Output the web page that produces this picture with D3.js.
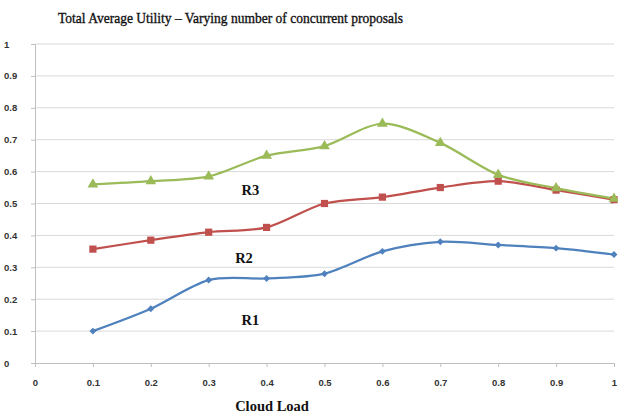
<!DOCTYPE html>
<html>
<head>
<meta charset="utf-8">
<script src="https://cdn.jsdelivr.net/npm/d3@7"></script>
<style>
  html, body { margin: 0; padding: 0; background: #fff; }
  svg { display: block; }
</style>
</head>
<body>
<svg id="chart" width="618" height="414"></svg>
<script>
// Cloud load levels and the three utility series
const loads = [0.1, 0.2, 0.3, 0.4, 0.5, 0.6, 0.7, 0.8, 0.9, 1.0];
const r1 = [0.10, 0.17, 0.26, 0.265, 0.28, 0.35, 0.38, 0.37, 0.36, 0.34];
const r2 = [0.357, 0.385, 0.41, 0.425, 0.50, 0.52, 0.55, 0.57, 0.542, 0.512];
const r3 = [0.56, 0.57, 0.585, 0.65, 0.68, 0.75, 0.69, 0.59, 0.548, 0.515];
const xTicks = [0, 0.1, 0.2, 0.3, 0.4, 0.5, 0.6, 0.7, 0.8, 0.9, 1];
const yTicks = [0, 0.1, 0.2, 0.3, 0.4, 0.5, 0.6, 0.7, 0.8, 0.9, 1];
const seriesNames = ["R1", "R2", "R3"];

const svg = d3.select("#chart");
const margin = { left: 35, right: 4, top: 44, bottom: 51 };
const W = 618, H = 414;

const x = d3.scaleLinear().domain([0, 1]).range([margin.left, W - margin.right]);
const y = d3.scaleLinear().domain([0, 1]).range([H - margin.bottom, margin.top]);

const tickFont = "'Liberation Sans', Arial, sans-serif";
const serif = "'Liberation Serif', 'Times New Roman', serif";

// horizontal gridlines
svg.append("g")
  .selectAll("line")
  .data(yTicks.filter(d => d > 0))
  .join("line")
  .attr("x1", x(0)).attr("x2", x(1))
  .attr("y1", d => y(d)).attr("y2", d => y(d))
  .attr("stroke", "#d9d9d9").attr("stroke-width", 1);

// y axis
const yAxis = svg.append("g")
  .attr("transform", `translate(${x(0)},0)`)
  .call(d3.axisLeft(y).tickValues(yTicks).tickSize(4).tickPadding(12)
    .tickFormat(d => d3.format("")(+d.toFixed(1))));
// x axis
const xAxis = svg.append("g")
  .attr("transform", `translate(0,${y(0)})`)
  .call(d3.axisBottom(x).tickValues(xTicks).tickSize(4).tickPadding(12)
    .tickFormat(d => d3.format("")(+d.toFixed(1))));

[yAxis, xAxis].forEach(a => {
  a.select(".domain").attr("stroke", "#bfbfbf");
  a.selectAll(".tick line").attr("stroke", "#bfbfbf");
  a.selectAll("text")
    .attr("font-family", tickFont)
    .attr("font-size", 9.5)
    .attr("font-weight", "bold")
    .attr("fill", "#333");
});
yAxis.selectAll("text").attr("text-anchor", "start").attr("x", -31);

const colors = ["#4f81bd", "#c0504d", "#9bbb59"];
const data = [r1, r2, r3];

const line = d3.line()
  .x((d, i) => x(loads[i]))
  .y(d => y(d))
  .curve(d3.curveCardinal.tension(0.1));

data.forEach((vals, k) => {
  svg.append("path")
    .datum(vals)
    .attr("d", line)
    .attr("fill", "none")
    .attr("stroke", colors[k])
    .attr("stroke-width", 2.25);
});

// markers: diamond (rotated square), square, triangle
const shapes = [d3.symbolSquare, d3.symbolSquare, d3.symbolTriangle];
const sizes = [24, 52, 50];
const rotations = [45, 0, 0];
data.forEach((vals, k) => {
  svg.append("g")
    .selectAll("path")
    .data(vals)
    .join("path")
    .attr("transform", (d, i) => `translate(${x(loads[i])},${y(d)}) rotate(${rotations[k]})`)
    .attr("d", d3.symbol().type(shapes[k]).size(sizes[k]))
    .attr("fill", colors[k]);
});

// title
svg.append("text")
  .attr("x", 58).attr("y", 23)
  .attr("font-family", serif).attr("font-size", 14.5)
  .attr("textLength", 345).attr("lengthAdjust", "spacingAndGlyphs")
  .attr("fill", "#111").attr("stroke", "#111").attr("stroke-width", 0.35)
  .text("Total Average Utility \u2013 Varying number of concurrent proposals");

// x axis title
svg.append("text")
  .attr("x", 272).attr("y", 411)
  .attr("text-anchor", "middle")
  .attr("font-family", serif).attr("font-size", 14.5).attr("font-weight", "bold")
  .attr("fill", "#111")
  .text("Cloud Load");

// series labels placed in data space
const labelPos = [[0.372, 0.119], [0.361, 0.313], [0.372, 0.527]];
seriesNames.forEach((name, k) => {
  svg.append("text")
    .attr("x", x(labelPos[k][0])).attr("y", y(labelPos[k][1]))
    .attr("text-anchor", "middle")
    .attr("font-family", serif).attr("font-size", 14.5).attr("font-weight", "bold")
    .attr("fill", "#111")
    .text(name);
});
</script>
</body>
</html>
